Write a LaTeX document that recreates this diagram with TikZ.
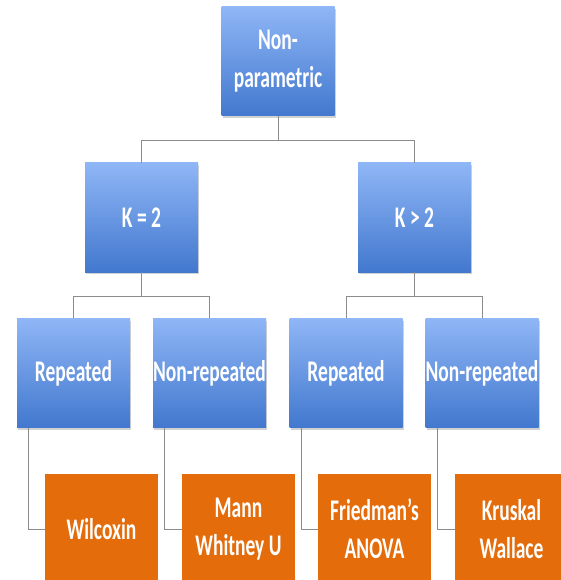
\documentclass[tikz,border=0pt]{standalone}
\usepackage{fontspec}
\newfontfamily\boxfont{Carlito}[FakeStretch=0.65]
\usetikzlibrary{shadows}
\definecolor{bluetop}{RGB}{143,182,246}
\definecolor{bluebot}{RGB}{66,120,206}
\definecolor{orangebox}{RGB}{228,108,10}
\definecolor{conn}{RGB}{140,140,140}
\tikzset{
  bluebox/.style={rectangle, minimum width=113pt, minimum height=109pt, inner sep=0pt,
    top color=bluetop, bottom color=bluebot, draw=none, text=white, align=center,
    font=\boxfont\bfseries\fontsize{30}{38}\selectfont,
    drop shadow={shadow xshift=1pt, shadow yshift=-2pt, opacity=0.35}},
  orangebox/.style={rectangle, minimum width=113pt, minimum height=110pt, inner sep=0pt,
    fill=orangebox, draw=none, text=white, align=center,
    font=\boxfont\bfseries\fontsize{30}{38}\selectfont},
  link/.style={draw=conn, line width=1pt}
}
\begin{document}
\begin{tikzpicture}[x=1pt,y=1pt]
\useasboundingbox (0,0) rectangle (561,-580);
\clip (0,0) rectangle (561,-580);
\fill[white] (0,0) rectangle (561,-580);
% nodes
\node[bluebox] (top) at (278,-61.5) {Non-\\parametric};
\node[bluebox] (k2) at (141.5,-217.5) {K = 2};
\node[bluebox] (kg) at (414.5,-217.5) {K > 2};
\node[bluebox] (rep1) at (73.5,-373) {Repeated};
\node[bluebox] (non1) at (209.5,-373) {Non-repeated};
\node[bluebox] (rep2) at (346,-373) {Repeated};
\node[bluebox] (non2) at (482,-373) {Non-repeated};
\node[orangebox] (wil) at (101.5,-529) {Wilcoxin};
\node[orangebox] (mann) at (238.5,-529) {Mann\\Whitney U};
\node[orangebox] (fri) at (374.5,-529) {Friedman’s\\ANOVA};
\node[orangebox] (kru) at (511.5,-529) {Kruskal\\Wallace};
% connectors
\draw[link] (top.south) -- ++(0,-24) coordinate (t1) -| (k2.north);
\draw[link] (t1) -| (kg.north);
\draw[link] (k2.south) -- ++(0,-24) coordinate (t2) -| (rep1.north);
\draw[link] (t2) -| (non1.north);
\draw[link] (kg.south) -- ++(0,-24) coordinate (t3) -| (rep2.north);
\draw[link] (t3) -| (non2.north);
\draw[link] ([xshift=12pt]rep1.south west) |- (wil.west);
\draw[link] ([xshift=12pt]non1.south west) |- (mann.west);
\draw[link] ([xshift=12pt]rep2.south west) |- (fri.west);
\draw[link] ([xshift=12pt]non2.south west) |- (kru.west);
\end{tikzpicture}
\end{document}
